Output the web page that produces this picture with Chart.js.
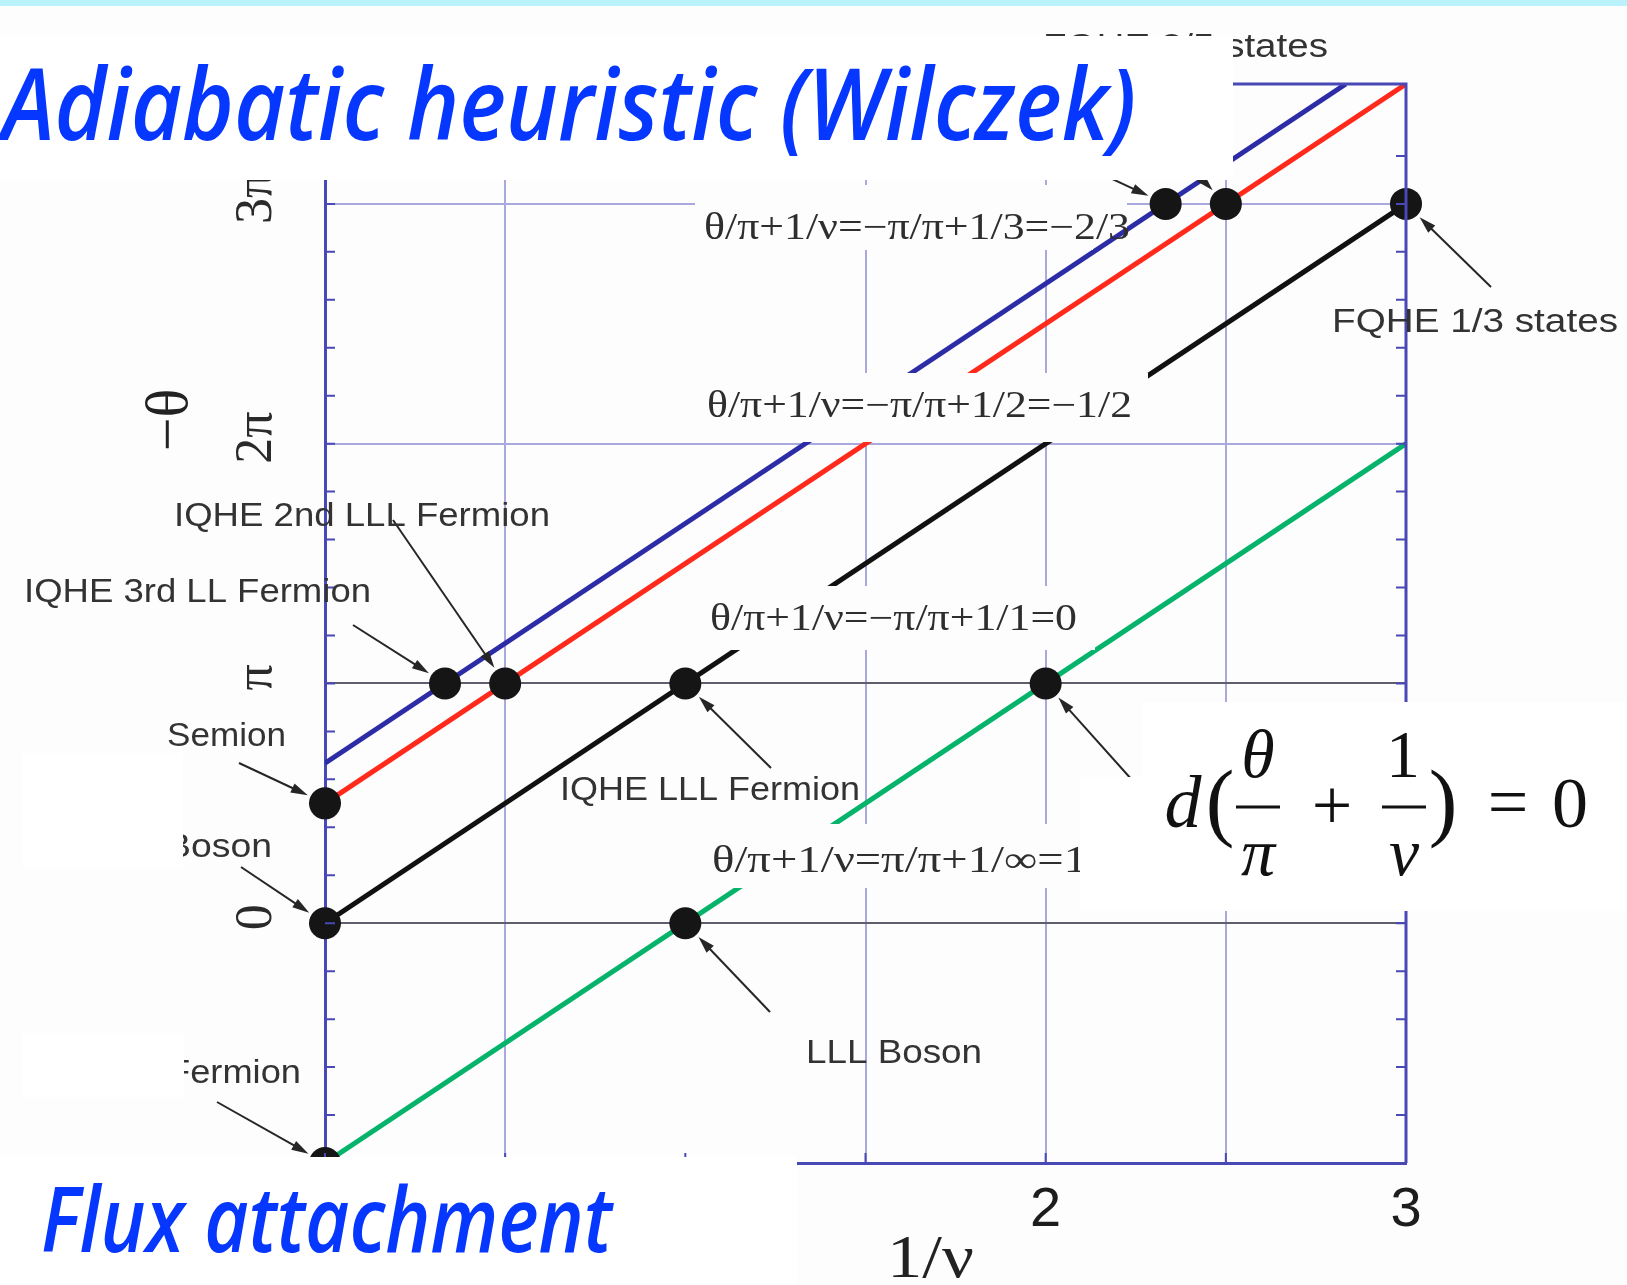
<!DOCTYPE html>
<html>
<head>
<meta charset="utf-8">
<title>Adiabatic heuristic</title>
<script src="https://cdn.jsdelivr.net/npm/chart.js@4.4.0/dist/chart.umd.min.js"></script>
<style>
  html, body { margin: 0; padding: 0; background: #fdfdfd; }
  #wrap { position: relative; width: 1627px; height: 1285px; }
</style>
</head>
<body>
<div id="wrap"><canvas id="chart" width="1627" height="1285"></canvas></div>
<script>
// colours
const AXIS_BLUE = '#4848b6';
const GRID_LIGHT = '#a9a9de';
const GRID_DARK = '#5e5e6c';
const INK = '#2e2e2e';
const SLIDE_BLUE = '#0637ff';
const PAPER = '#fdfdfd';

// lines of constant θ/π + 1/ν : x = 1/ν, y = −θ/π
const greenX = [0, 3];
const greenY = [-1, 2];
const blackX = [0, 3];
const blackY = [0, 3];
const redX = [0, 3];
const redY = [0.5, 3.5];
const blueX = [0, 2.833];
const blueY = [0.667, 3.5];

// marked states
const dotX = [0, 1, 2, 0, 1, 3, 0, 0.5, 2.5, 0.333, 2.333];
const dotY = [-1, 0, 1, 0, 1, 3, 0.5, 1, 3, 1, 3];

// tick labels and grid positions
const xTickValues = [0, 1, 2, 3];
const xTickText = ['0', '1', '2', '3'];
const yTickValues = [0, 1, 2, 3];
const yTickText = ['0', 'π', '2π', '3π'];
const xGridValues = [0.5, 1.5, 2, 2.5];
const yGridDark = [0, 1];
const yGridLight = [2, 3];

// equation labels, each on a small white patch that hides the lines under it
const eqNotes = [
  { text: 'θ/π+1/ν=−π/π+1/3=−2/3', x: 704, y: 239, w: 426, patch: [[695, 185, 432, 43], [695, 228, 398, 22]] },
  { text: 'θ/π+1/ν=−π/π+1/2=−1/2', x: 707, y: 417, w: 425, patch: [[690, 373, 458, 69]] },
  { text: 'θ/π+1/ν=−π/π+1/1=0', x: 710, y: 630, w: 367, patch: [[695, 586, 400, 64]] },
  { text: 'θ/π+1/ν=π/π+1/∞=1', x: 712, y: 872, w: 375, patch: [[697, 824, 403, 64]] }
];

const stateNotes = [
  { text: 'FQHE 2/5 states', x: 1043, y: 57, w: 285 },
  { text: 'FQHE 1/3 states', x: 1332, y: 332, w: 286 },
  { text: 'IQHE 2nd LLL Fermion', x: 174, y: 526, w: 376 },
  { text: 'IQHE 3rd LL Fermion', x: 24, y: 602, w: 347 },
  { text: 'Semion', x: 167, y: 746, w: 119 },
  { text: 'Boson', x: 166, y: 857, w: 106 },
  { text: 'Fermion', x: 168, y: 1083, w: 133 },
  { text: 'IQHE LLL Fermion', x: 560, y: 800, w: 300 },
  { text: 'LLL Boson', x: 806, y: 1063, w: 176 }
];

// arrows: tail in pixels, head at a state (1/ν, −θ/π)
const pointers = [
  { from: [1050, 150], to: [2.333, 3] },
  { from: [1172, 148], to: [2.5, 3] },
  { from: [1491, 287], to: [3, 3] },
  { from: [393, 520], to: [0.5, 1] },
  { from: [353, 625], to: [0.333, 1] },
  { from: [239, 763], to: [0, 0.5] },
  { from: [241, 867], to: [0, 0] },
  { from: [217, 1102], to: [0, -1] },
  { from: [771, 768], to: [1, 1] },
  { from: [770, 1012], to: [1, 0] },
  { from: [1150, 800], to: [2, 1] }
];

// white panels laid over the figure
const covers = [
  [0, 36, 1233, 144],
  [0, 1157, 797, 128],
  [1142, 702, 485, 75],
  [1080, 777, 547, 134],
  [22, 753, 161, 114],
  [22, 1033, 162, 64]
];

function pts(xs, ys) {
  return xs.map((x, i) => ({ x: x, y: ys[i] }));
}

function near(list, v) {
  return list.some(t => Math.abs(t - v) < 1e-6);
}

function pickLabel(values, texts, v) {
  const i = values.findIndex(t => Math.abs(t - v) < 1e-6);
  return i < 0 ? '' : texts[i];
}

// draw text squeezed or stretched to a given width
function fitText(ctx, text, x, y, w, font, color) {
  ctx.save();
  ctx.font = font;
  ctx.fillStyle = color;
  ctx.textAlign = 'left';
  ctx.textBaseline = 'alphabetic';
  const natural = ctx.measureText(text).width;
  ctx.translate(x, y);
  ctx.scale(w / natural, 1);
  ctx.fillText(text, 0, 0);
  ctx.restore();
}

function drawPointer(ctx, tail, head) {
  const dx = head[0] - tail[0], dy = head[1] - tail[1];
  const len = Math.hypot(dx, dy);
  const ux = dx / len, uy = dy / len;
  const ex = head[0] - ux * 19, ey = head[1] - uy * 19;
  ctx.beginPath();
  ctx.moveTo(tail[0], tail[1]);
  ctx.lineTo(ex - ux * 10, ey - uy * 10);
  ctx.stroke();
  ctx.beginPath();
  ctx.moveTo(ex, ey);
  ctx.lineTo(ex - ux * 17 - uy * 5, ey - uy * 17 + ux * 5);
  ctx.lineTo(ex - ux * 17 + uy * 5, ey - uy * 17 - ux * 5);
  ctx.closePath();
  ctx.fill();
}

function centred(ctx, text, cx, baseline, font) {
  ctx.font = font;
  ctx.textAlign = 'center';
  ctx.textBaseline = 'alphabetic';
  ctx.fillText(text, cx, baseline);
}

function drawFormula(ctx) {
  ctx.save();
  ctx.fillStyle = '#111';
  ctx.strokeStyle = '#111';
  ctx.lineWidth = 3;
  const it = 'italic 68px "Liberation Serif"';
  const rm = '68px "Liberation Serif"';
  const big = '86px "Liberation Serif"';
  centred(ctx, 'd', 1183, 827, 'italic 74px "Liberation Serif"');
  centred(ctx, '(', 1220, 830, big);
  centred(ctx, 'θ', 1258, 777, it);
  ctx.beginPath(); ctx.moveTo(1236, 807); ctx.lineTo(1280, 807); ctx.stroke();
  centred(ctx, 'π', 1258, 875, it);
  centred(ctx, '+', 1332, 829, '72px "Liberation Serif"');
  centred(ctx, '1', 1403, 777, rm);
  ctx.beginPath(); ctx.moveTo(1382, 807); ctx.lineTo(1426, 807); ctx.stroke();
  centred(ctx, 'ν', 1404, 875, it);
  centred(ctx, ')', 1443, 830, big);
  centred(ctx, '=', 1508, 826, '72px "Liberation Serif"');
  centred(ctx, '0', 1570, 827, '72px "Liberation Serif"');
  ctx.restore();
}

const overlay = {
  id: 'overlay',
  beforeDraw(chart) {
    const ctx = chart.ctx;
    ctx.save();
    ctx.fillStyle = PAPER;
    ctx.fillRect(0, 0, chart.width, chart.height);
    ctx.restore();
  },
  afterDatasetsDraw(chart) {
    const ctx = chart.ctx;
    const area = chart.chartArea;
    const xs = chart.scales.x, ys = chart.scales.y;
    ctx.save();

    // patches behind the equation labels
    ctx.fillStyle = PAPER;
    eqNotes.forEach(n => n.patch.forEach(r => ctx.fillRect(r[0], r[1], r[2], r[3])));
    eqNotes.forEach(n => fitText(ctx, n.text, n.x, n.y, n.w, '37px "Liberation Serif"', INK));

    // top and right frame, inward minor ticks
    ctx.strokeStyle = AXIS_BLUE;
    ctx.lineWidth = 3;
    ctx.beginPath();
    ctx.moveTo(area.left, area.top);
    ctx.lineTo(area.right, area.top);
    ctx.lineTo(area.right, area.bottom);
    ctx.stroke();
    ctx.lineWidth = 2;
    ys.ticks.forEach(t => {
      const py = ys.getPixelForValue(t.value);
      if (py < area.top + 2 || py > area.bottom - 2) return;
      ctx.beginPath();
      ctx.moveTo(area.left, py); ctx.lineTo(area.left + 10, py);
      ctx.moveTo(area.right, py); ctx.lineTo(area.right - 10, py);
      ctx.stroke();
    });
    xs.ticks.forEach(t => {
      const px = xs.getPixelForValue(t.value);
      ctx.beginPath();
      ctx.moveTo(px, area.bottom); ctx.lineTo(px, area.bottom - 10);
      ctx.stroke();
    });

    // arrows to the states
    ctx.strokeStyle = '#262626';
    ctx.fillStyle = '#262626';
    ctx.lineWidth = 2;
    pointers.forEach(p => {
      drawPointer(ctx, p.from, [xs.getPixelForValue(p.to[0]), ys.getPixelForValue(p.to[1])]);
    });

    stateNotes.forEach(n => fitText(ctx, n.text, n.x, n.y, n.w, '34px "Liberation Sans"', '#333'));
    ctx.restore();
  },
  afterDraw(chart) {
    const ctx = chart.ctx;
    ctx.save();
    ctx.fillStyle = '#ffffff';
    covers.forEach(r => ctx.fillRect(r[0], r[1], r[2], r[3]));

    // slide strip along the top edge
    ctx.fillStyle = '#b9f2fb';
    ctx.fillRect(0, 0, chart.width, 6);

    fitText(ctx, 'Adiabatic heuristic (Wilczek)', 2, 140, 1134, 'italic 600 100px "Open Sans"', SLIDE_BLUE);
    fitText(ctx, 'Flux attachment', 41, 1252, 571, 'italic 600 90px "Open Sans"', SLIDE_BLUE);
    drawFormula(ctx);

    // axis titles
    ctx.fillStyle = '#222';
    ctx.save();
    ctx.translate(171, 420);
    ctx.rotate(-Math.PI / 2);
    ctx.font = '60px "Liberation Serif"';
    ctx.textAlign = 'center';
    ctx.textBaseline = 'middle';
    ctx.fillText('−θ', 0, 0);
    ctx.restore();
    fitText(ctx, '1/ν', 887, 1277, 87, '62px "Liberation Serif"', '#222');
    ctx.restore();
  }
};

new Chart(document.getElementById('chart'), {
  type: 'scatter',
  data: {
    datasets: [
      { label: 'states', data: pts(dotX, dotY), pointRadius: 16, pointBackgroundColor: '#151515',
        pointBorderWidth: 0, showLine: false, clip: false, order: 0 },
      { label: 'θ/π+1/ν=1', data: pts(greenX, greenY), showLine: true, borderColor: '#05b46a',
        borderWidth: 5, pointRadius: 0, order: 1 },
      { label: 'θ/π+1/ν=0', data: pts(blackX, blackY), showLine: true, borderColor: '#111111',
        borderWidth: 5, pointRadius: 0, order: 1 },
      { label: 'θ/π+1/ν=−1/2', data: pts(redX, redY), showLine: true, borderColor: '#ff2a1c',
        borderWidth: 5, pointRadius: 0, order: 1 },
      { label: 'θ/π+1/ν=−2/3', data: pts(blueX, blueY), showLine: true, borderColor: '#2c2ca6',
        borderWidth: 5, pointRadius: 0, order: 1 }
    ]
  },
  options: {
    responsive: false,
    animation: false,
    events: [],
    layout: { padding: { left: 205, right: 221, top: 84, bottom: 42 } },
    plugins: { legend: { display: false }, tooltip: { enabled: false } },
    scales: {
      x: {
        type: 'linear', min: 0, max: 3,
        afterFit(s) { s.height = 80; s.paddingLeft = 0; s.paddingRight = 0; },
        ticks: {
          stepSize: 0.5, autoSkip: false, maxRotation: 0, padding: 14, color: '#1d1d1d',
          font: { family: 'Liberation Sans', size: 56 },
          callback: v => pickLabel(xTickValues, xTickText, v)
        },
        grid: { drawTicks: false, lineWidth: 2,
          color: c => (c.tick && near(xGridValues, c.tick.value)) ? GRID_LIGHT : 'rgba(0,0,0,0)' },
        border: { color: AXIS_BLUE, width: 3 }
      },
      y: {
        type: 'linear', min: -1, max: 3.5,
        afterFit(s) { s.width = 120; s.paddingTop = 0; s.paddingBottom = 0; },
        ticks: {
          stepSize: 0.2, autoSkip: false, minRotation: 90, maxRotation: 90, crossAlign: 'center',
          padding: 42, labelOffset: -6, color: '#2a2a2a', font: { family: 'Liberation Serif', size: 52 },
          callback: v => pickLabel(yTickValues, yTickText, v)
        },
        grid: { drawTicks: false, lineWidth: 2,
          color: c => {
            if (!c.tick) return 'rgba(0,0,0,0)';
            if (near(yGridDark, c.tick.value)) return GRID_DARK;
            if (near(yGridLight, c.tick.value)) return GRID_LIGHT;
            return 'rgba(0,0,0,0)';
          } },
        border: { color: AXIS_BLUE, width: 3 }
      }
    }
  },
  plugins: [overlay]
});
</script>
</body>
</html>
